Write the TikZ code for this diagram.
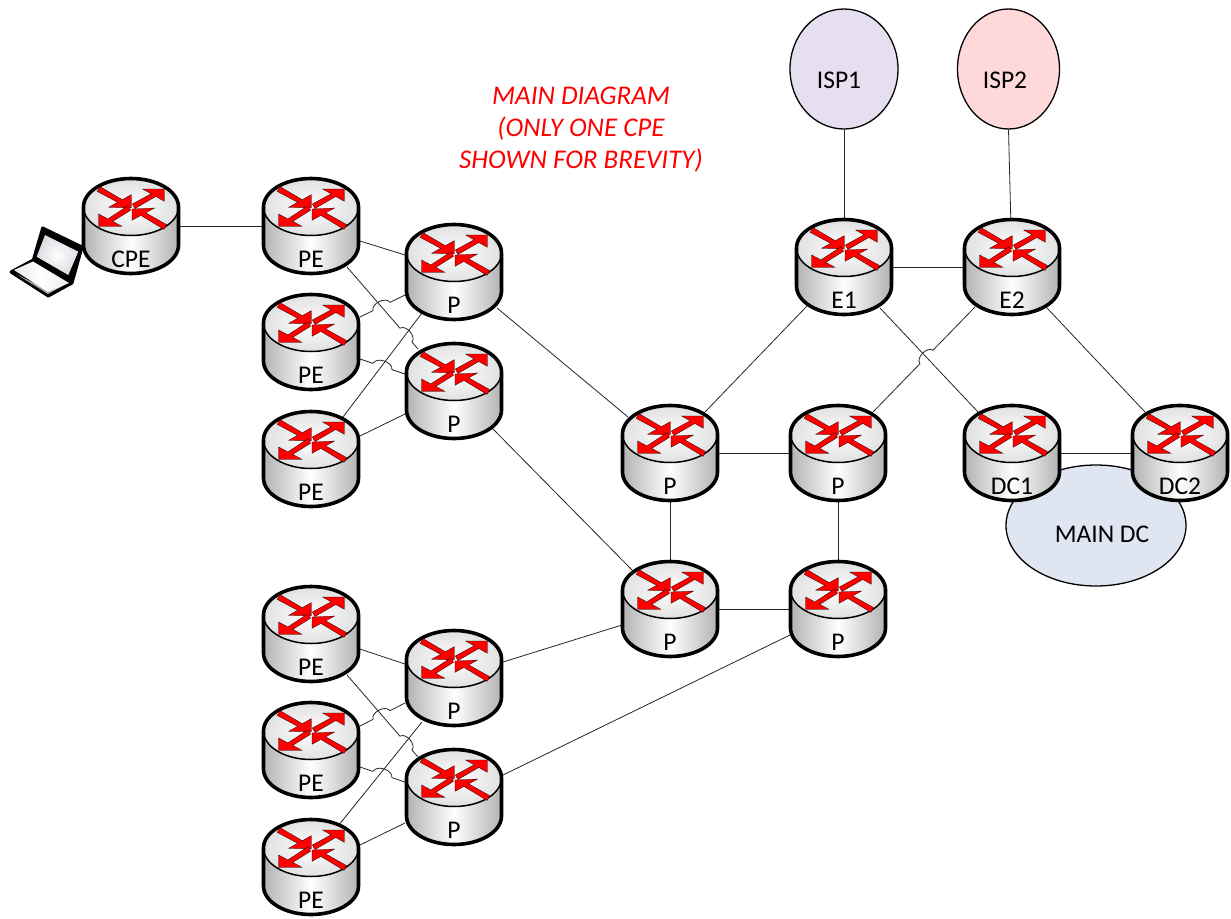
\documentclass[tikz,border=0pt]{standalone}
\usepackage{fontspec}
\setmainfont{Carlito}
\usetikzlibrary{calc,shapes.geometric}
\definecolor{ispa}{HTML}{E6DFF0}
\definecolor{ispb}{HTML}{FFD9D9}
\definecolor{dcfill}{HTML}{DFE6F2}
\tikzset{
  routerbox/.style={rectangle,minimum width=98pt,minimum height=96pt,inner sep=0pt},
  routerlabel/.style={inner sep=0pt,font=\fontsize{25.5}{30}\selectfont,text=black},
  link/.style={draw=black!85,line width=0.8pt},
  cloud/.style={ellipse,draw=black,line width=1.3pt,inner sep=0pt},
  rarrow/.style={fill=red,draw=black,line width=0.25pt,line join=miter},
  rim/.style={draw=black,line width=3.6pt,line join=round},
}
% \hoplink{start}{end}{t1}{t2}{bend}
\newcommand{\hoplink}[5]{%
  \draw[link] (#1) -- ($(#1)!#3!(#2)$) to[#5] ($(#1)!#4!(#2)$) -- (#2);}
\begin{document}
\begin{tikzpicture}[x=1pt,y=-1pt]
\useasboundingbox (0,0) rectangle (1231,918);
% nodes
\foreach \n/\x/\y in {cpe/131/226,pea/311/226,pa/454/272,peb/311/342,pb/454/391,pec/311/459,
  pc/670/453,pd/838/453,pe/670/609,pf/838/609,ea/844/267,eb/1012/267,dca/1012/453,dcb/1180/453,
  ped/311/634,pg/454/678,pee/311/750,ph/454/797,pef/311/867}
  \node[routerbox] (\n) at (\x,\y) {};
% clouds
\node[cloud,fill=ispa,minimum width=108pt,minimum height=120pt] (ispone) at (844,69) {};
\node[cloud,fill=ispb,minimum width=102pt,minimum height=120pt] (isptwo) at (1008.5,69) {};
\node[cloud,fill=dcfill,minimum width=180pt,minimum height=121pt] (maindc) at (1096,525.5) {};
\node[routerlabel] (ispatext) at (839,80) {ISP1};
\node[routerlabel] (ispbtext) at (1005,80) {ISP2};
\node[routerlabel] (dctext) at (1102,534) {MAIN DC};
% connectors
\draw[link] (cpe) -- (pea);
\draw[link] (ea) -- (eb);
\draw[link] (pc) -- (pd);
\draw[link] (pe) -- (pf);
\draw[link] (pc) -- (pe);
\draw[link] (pd) -- (pf);
\draw[link] (dca) -- (dcb);
\draw[link] (ispone.south) -- (ea);
\draw[link] (isptwo.south) -- (eb);
\draw[link] ($(pea)+(49,15)$) -- ($(pa)+(-49,-17)$);
\draw[link] ($(pec)+(32,-42)$) -- ($(pa)+(-32,41)$);
\draw[link] ($(pec)+(49,-23)$) -- ($(pb)+(-49,23)$);
\draw[link] ($(pa)+(43,36)$) -- ($(pc)+(-42,-36)$);
\draw[link] ($(pb)+(38,37)$) -- ($(pe)+(-38,-39)$);
\draw[link] ($(pc)+(35,-41)$) -- ($(ea)+(-36,38)$);
\draw[link] ($(ea)+(36,41)$) -- ($(dca)+(-34,-41)$);
\draw[link] ($(eb)+(35,41)$) -- ($(dcb)+(-35,-41)$);
\draw[link] ($(pg)+(49,-16)$) -- ($(pe)+(-48,16)$);
\draw[link] ($(ph)+(49,-22)$) -- ($(pf)+(-48,26)$);
\draw[link] ($(ped)+(49,15)$) -- ($(pg)+(-49,-14)$);
\draw[link] ($(pef)+(49,-22)$) -- ($(ph)+(-49,26)$);
\draw[link] ($(pef)+(27,-41)$) -- ($(pg)+(-32,44)$);
% connectors with hops
\hoplink{$(pea)+(36,41)$}{$(pb)+(-36,-42)$}{.746}{.915}{bend left=80}
\hoplink{$(peb)+(49,-25)$}{$(pa)+(-49,23)$}{.29}{.667}{bend left=80}
\hoplink{$(peb)+(49,17)$}{$(pb)+(-49,-17)$}{.29}{.71}{bend left=80}
\hoplink{$(pd)+(35,-41)$}{$(eb)+(-37,40)$}{.46}{.588}{bend left=80}
\hoplink{$(ped)+(36,41)$}{$(ph)+(-36,-40)$}{.746}{.915}{bend left=80}
\hoplink{$(pee)+(49,-24)$}{$(pg)+(-49,25)$}{.29}{.667}{bend left=80}
\hoplink{$(pee)+(49,17)$}{$(ph)+(-49,-15)$}{.29}{.71}{bend left=80}
% router drawings
\foreach \n/\t in {cpe/CPE,pea/PE,pa/P,peb/PE,pb/P,pec/PE,pc/P,pd/P,pe/P,pf/P,ea/E1,eb/E2,dca/DC1,dcb/DC2,
  ped/PE,pg/P,pee/PE,ph/P,pef/PE}{
  \begin{scope}[shift={(\n)}]
    \path[left color=black!30,right color=black!30,middle color=white]
      (-47.5,-19) -- (-47.5,19) arc[start angle=180,end angle=0,x radius=47.5,y radius=28.5] -- (47.5,-19) -- cycle;
    \path[inner color=white,outer color=black!12] (0,-19) ellipse[x radius=47.5,y radius=28.5];
    \draw[draw=black,line width=1.5pt] (-47.5,-19) arc[start angle=180,end angle=0,x radius=47.5,y radius=28.5];
    \draw[rim] (-47.5,19) -- (-47.5,-19) arc[start angle=180,end angle=360,x radius=47.5,y radius=28.5]
       -- (47.5,19) arc[start angle=0,end angle=180,x radius=47.5,y radius=28.5] -- cycle;
    \begin{scope}[yshift=18.7pt,xshift=0.3pt]
      \draw[rarrow] (-34.1,-15.9) -- (-13.7,-5) -- (-22.7,0) -- (0,.7) -- (0,-12.7) -- (-9,-7.6) -- (-31.3,-20.7) -- cycle;
      \draw[rarrow] (3.6,1.3) -- (24.5,-10.8) -- (33,-6) -- (33,-18.3) -- (11.3,-18.3) -- (19.8,-13.5) -- (1,-3.3) -- cycle;
      \draw[rarrow] (-.7,3) -- (-18.6,14.1) -- (-9.3,19) -- (-32.7,19) -- (-32.7,6.7) -- (-23.4,11.6) -- (-3.3,-1.6) -- cycle;
      \draw[rarrow] (35.3,17.3) -- (14.4,5.55) -- (23.3,.7) -- (.7,1.7) -- (.7,13) -- (9.6,8.15) -- (32.7,22.1) -- cycle;
    \end{scope}
  \end{scope}
  \node[routerlabel] (\n text) at ($(\n)+(0,33)$) {\t};
}
% laptop
\begin{scope}[line join=round]
  \draw[fill=black,draw=black,line width=3pt] (42.7,228) -- (82,247) -- (72,283) -- (48.3,296) -- (11,272) -- (33.3,260) -- cycle;
  \fill[black!35] (16,274) -- (48,294) -- (68,283) -- (48,290) -- cycle;
  \path[left color=black!8,right color=black!8,middle color=white] (14,270) -- (33,261.5) -- (69,283) -- (48,292) -- cycle;
  \path[inner color=white,outer color=blue!22!black!14] (45,235) -- (78.3,251.7) -- (68.3,275) -- (36.7,256.7) -- cycle;
\end{scope}
% caption
\node[inner sep=0pt,align=center,text=red,font=\fontsize{27}{32}\selectfont\itshape] (caption) at (581,130)
  {MAIN DIAGRAM\\(ONLY ONE CPE\\SHOWN FOR BREVITY)};
\end{tikzpicture}
\end{document}
